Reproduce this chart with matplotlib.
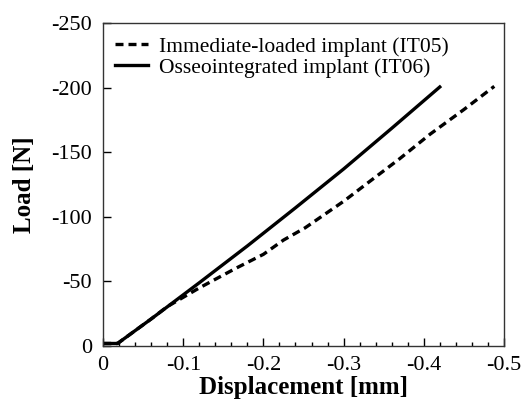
import matplotlib
matplotlib.use("Agg")
import matplotlib.pyplot as plt
from matplotlib.ticker import MultipleLocator, FixedLocator

plt.rcParams['font.family'] = ['Liberation Serif', 'DejaVu Serif']
plt.rcParams['axes.unicode_minus'] = False

# Data (displacement in mm, load in N)
it05_x = [0, -0.018, -0.06, -0.08, -0.12, -0.165, -0.20, -0.225, -0.252, -0.30,
          -0.333, -0.37, -0.408, -0.45, -0.488]
it05_y = [-2, -2, -21, -30.5, -45, -60, -71, -82, -91.5, -112,
          -127.6, -145, -164, -183, -201]
it06_x = [0, -0.018, -0.06, -0.12, -0.18, -0.24, -0.30, -0.36, -0.42]
it06_y = [-2, -2, -21, -49, -77.5, -107, -137, -168.5, -200.5]
labels = ['Immediate-loaded implant (IT05)', 'Osseointegrated implant (IT06)']
x_ticks = [0, -0.1, -0.2, -0.3, -0.4, -0.5]
x_ticklabels = ['0', '-0.1', '-0.2', '-0.3', '-0.4', '-0.5']
y_ticks = [0, -50, -100, -150, -200, -250]
y_ticklabels = ['0', '-50', '-100', '-150', '-200', '-250']

fig = plt.figure(figsize=(5.26, 4.11), dpi=100)
ax = fig.add_axes([0.196, 0.158, 0.762, 0.786])

ax.plot(it05_x, it05_y, color='black', lw=2.4, linestyle=(0, (2.4, 1.5)), label=labels[0])
ax.plot(it06_x, it06_y, color='black', lw=2.4, linestyle='-', label=labels[1])

ax.set_xlim(0, -0.5)
ax.set_ylim(0, -250)
ax.xaxis.set_major_locator(FixedLocator(x_ticks))
ax.set_xticklabels(x_ticklabels)
ax.xaxis.set_minor_locator(MultipleLocator(0.02))
ax.yaxis.set_major_locator(FixedLocator(y_ticks))
ax.set_yticklabels(y_ticklabels)

ax.tick_params(axis='both', which='major', direction='in', length=6, width=1,
               labelsize=16, top=False, right=False)
ax.tick_params(axis='x', which='major', pad=7)
ax.tick_params(axis='y', which='major', pad=8)
ax.tick_params(axis='x', which='minor', direction='in', length=3, width=1, top=False)
ax.tick_params(axis='y', which='minor', left=False)
for s in ax.spines.values():
    s.set_linewidth(1.0)
    s.set_color('#333333')

ax.set_xlabel('Displacement [mm]', fontsize=18, fontweight='bold', labelpad=1)
ax.set_ylabel('Load [N]', fontsize=18, fontweight='bold', labelpad=11)

ax.legend(loc='upper left', frameon=False, fontsize=15.5, handlelength=1.5,
          handletextpad=0.55, borderaxespad=0.0, labelspacing=0.05,
          bbox_to_anchor=(0.009, 0.985))

fig.savefig('out.png', dpi=100)
